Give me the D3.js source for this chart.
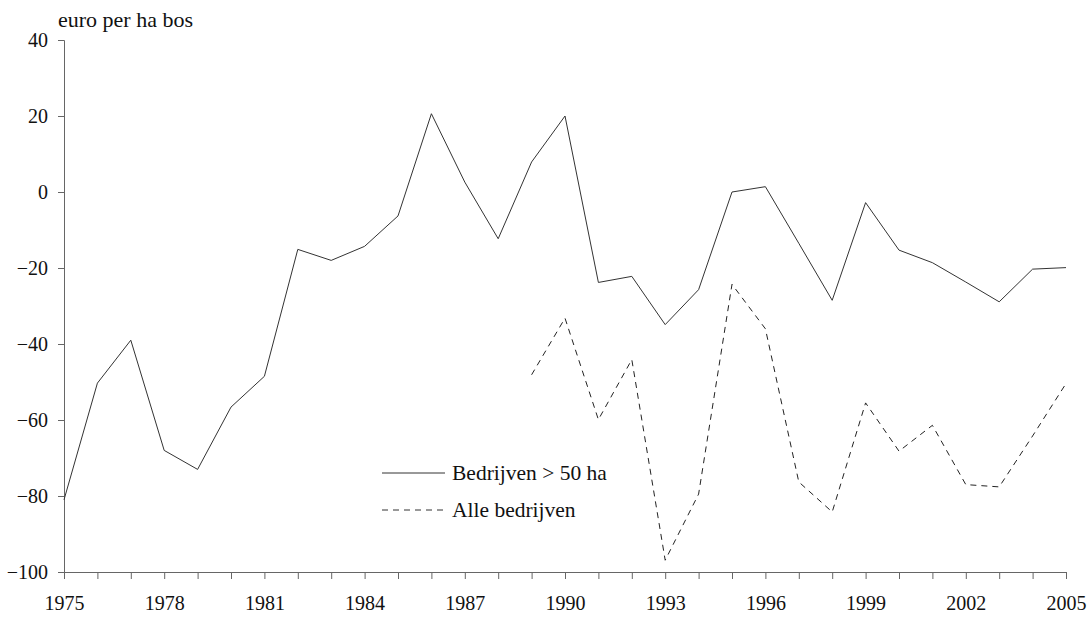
<!DOCTYPE html>
<html>
<head>
<meta charset="utf-8">
<script src="https://cdn.jsdelivr.net/npm/d3@7"></script>
<style>
  body { margin: 0; background: #fff; }
</style>
</head>
<body>
<div id="chart"></div>
<script>
const years = d3.range(1975, 2006);
const bedrijven50 = [-81, -50.3, -39, -68, -73, -56.6, -48.5, -15.1, -18, -14.3, -6.3, 20.6, 2.6, -12.3, 7.9, 20,
  -23.8, -22.2, -34.9, -25.7, 0, 1.4, -13.5, -28.5, -2.8, -15.3, -18.6, -23.7, -28.9, -20.3, -19.9];
const alleYears = d3.range(1989, 2006);
const alleBedrijven = [-48.1, -33.2, -59.9, -44.1, -96.9, -79.5, -24.3, -36, -76.3, -84.2, -55.5, -68.2, -61.4,
  -77, -77.6, -64.2, -50.4];
const yTicks = [-100, -80, -60, -40, -20, 0, 20, 40];
const xLabels = [1975, 1978, 1981, 1984, 1987, 1990, 1993, 1996, 1999, 2002, 2005];

const FONT = "Liberation Serif, Times New Roman, DejaVu Serif, serif";
const width = 1091, height = 617;
const svg = d3.select("#chart").append("svg")
  .attr("width", width)
  .attr("height", height)
  .attr("font-family", FONT);

const x = d3.scaleLinear().domain([1975, 2005]).range([64, 1066]);
const y = d3.scaleLinear().domain([-100, 40]).range([572, 40]);

// y axis
const yAxis = svg.append("g")
  .attr("transform", `translate(${x(1975)},0)`)
  .call(d3.axisLeft(y).tickValues(yTicks).tickSize(6).tickPadding(10).tickFormat(d3.format("d")));
// x axis
const xAxis = svg.append("g")
  .attr("transform", `translate(0,${y(-100)})`)
  .call(d3.axisBottom(x).tickValues(years).tickSize(7).tickPadding(17)
    .tickFormat(d => xLabels.includes(d) ? d : ""));

[yAxis, xAxis].forEach(a => {
  a.attr("font-family", FONT).attr("font-size", 20);
  a.select(".domain").attr("stroke", "#666");
  a.selectAll(".tick line").attr("stroke", "#666");
  a.selectAll("text").attr("fill", "#111");
});

svg.append("text")
  .attr("x", 58).attr("y", 27)
  .attr("font-size", 22)
  .attr("fill", "#111")
  .text("euro per ha bos");

const line = d3.line()
  .x(d => x(d[0]))
  .y(d => y(d[1]));

svg.append("path")
  .datum(years.map((yr, i) => [yr, bedrijven50[i]]))
  .attr("fill", "none")
  .attr("stroke", "#333")
  .attr("stroke-width", 1)
  .attr("d", line);

svg.append("path")
  .datum(alleYears.map((yr, i) => [yr, alleBedrijven[i]]))
  .attr("fill", "none")
  .attr("stroke", "#222")
  .attr("stroke-width", 1)
  .attr("stroke-dasharray", "6,5")
  .attr("d", line);

// legend
const legend = [
  { label: "Bedrijven > 50 ha", dash: null, y: 473 },
  { label: "Alle bedrijven", dash: "6,5", y: 510 }
];
legend.forEach(l => {
  svg.append("line")
    .attr("x1", 382).attr("x2", 445)
    .attr("y1", l.y).attr("y2", l.y)
    .attr("stroke", "#333")
    .attr("stroke-dasharray", l.dash);
  svg.append("text")
    .attr("x", 452).attr("y", l.y + 7)
    .attr("font-size", 21.5)
    .attr("fill", "#111")
    .text(l.label);
});
</script>
</body>
</html>
